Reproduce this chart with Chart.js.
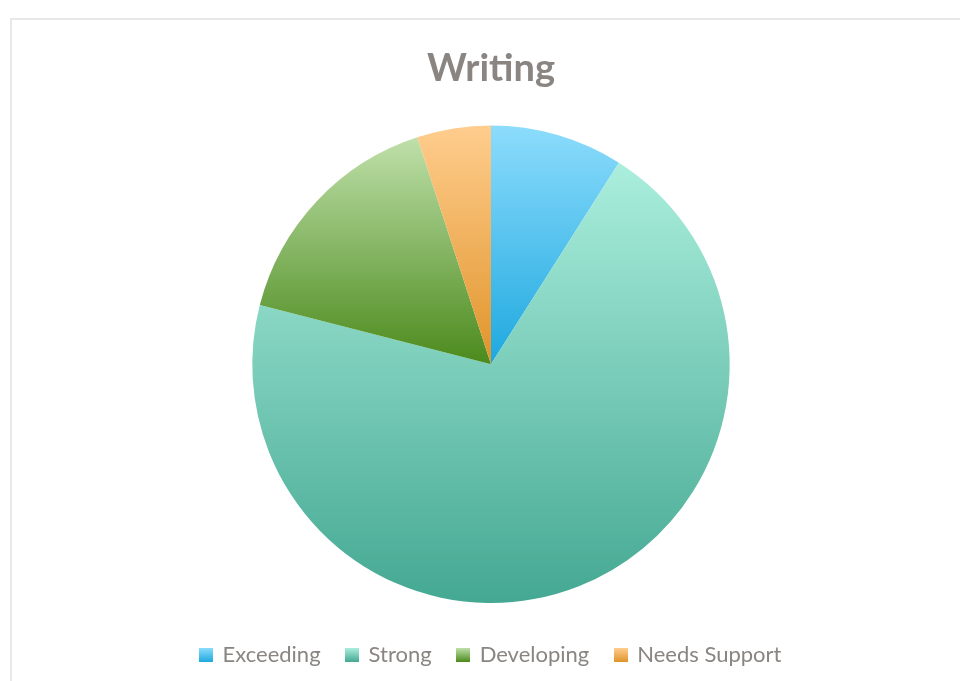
<!DOCTYPE html>
<html>
<head>
<meta charset="utf-8">
<script src="https://cdn.jsdelivr.net/npm/chart.js@4"></script>
<style>
  html, body { margin: 0; padding: 0; background: #fff; overflow: hidden; }
  #frame { position: absolute; left: 10px; top: 18px; width: 1000px; height: 700px;
           border-top: 2px solid #e8e8e8; border-left: 2px solid #e8e8e8; }
  #wrap { position: absolute; left: 0; top: 0; width: 960px; height: 681px; }
</style>
</head>
<body>
<div id="frame"></div>
<div id="wrap"><canvas id="chart" width="960" height="681"></canvas></div>
<script>
var categories = ['Exceeding', 'Strong', 'Developing', 'Needs Support'];
var shares = [9, 70, 16, 5];

// gradient ends per slice (top -> bottom)
var topColors = ['#8cdcfc', '#abeedd', '#bfe0aa', '#ffcd8e'];
var bottomColors = ['#1ea8df', '#44a892', '#4b8a1c', '#e0942a'];

function sliceGradient(context) {
    var chart = context.chart;
    var area = chart.chartArea;
    var i = context.dataIndex;
    if (!area) return topColors[i];
    var cy = (area.top + area.bottom) / 2;
    var r = Math.min(area.right - area.left, area.bottom - area.top) / 2;
    var total = shares.reduce(function (a, b) { return a + b; }, 0);
    var before = 0;
    for (var k = 0; k < i; k++) before += shares[k];
    var a0 = -Math.PI / 2 + before / total * 2 * Math.PI;
    var a1 = a0 + shares[i] / total * 2 * Math.PI;
    var ys = [cy, cy + r * Math.sin(a0), cy + r * Math.sin(a1)];
    // include extreme points if the arc passes through them
    [Math.PI / 2, -Math.PI / 2, 3 * Math.PI / 2].forEach(function (t) {
        if (t > a0 && t < a1) ys.push(cy + r * Math.sin(t));
    });
    var y0 = Math.min.apply(null, ys), y1 = Math.max.apply(null, ys);
    var g = chart.ctx.createLinearGradient(0, y0, 0, y1);
    g.addColorStop(0, topColors[i]);
    g.addColorStop(1, bottomColors[i]);
    return g;
}

// small gradient squares for the legend
var legendBoxes = topColors.map(function (c, i) {
    var cv = document.createElement('canvas');
    cv.width = 14; cv.height = 14;
    var x = cv.getContext('2d');
    var g = x.createLinearGradient(0, 0, 0, 14);
    g.addColorStop(0, c);
    g.addColorStop(1, bottomColors[i]);
    x.fillStyle = g;
    x.fillRect(0, 0, 14, 14);
    return cv;
});

var ctx = document.getElementById('chart').getContext('2d');
new Chart(ctx, {
    type: 'pie',
    data: {
        labels: categories,
        datasets: [{
            data: shares,
            backgroundColor: sliceGradient,
            borderWidth: 0
        }]
    },
    options: {
        responsive: false,
        animation: false,
        layout: { padding: { left: 22, right: 0, top: 0, bottom: 5 } },
        plugins: {
            title: {
                display: true,
                text: 'Writing',
                color: '#8a8581',
                font: { family: 'Lato', size: 38, weight: 'bold' },
                padding: { top: 46, bottom: 34 }
            },
            legend: {
                position: 'bottom',
                // empty legend title only adds space between pie and legend
                title: { display: true, text: ' ', font: { size: 10 }, padding: { top: 3, bottom: 0 } },
                labels: {
                    usePointStyle: true,
                    boxWidth: 11,
                    boxHeight: 14,
                    color: '#8a8581',
                    font: { family: 'Lato', size: 22 },
                    padding: 26,
                    generateLabels: function (chart) {
                        var items = Chart.overrides.pie.plugins.legend.labels.generateLabels(chart);
                        items.forEach(function (it, i) {
                            it.pointStyle = legendBoxes[i];
                            it.lineWidth = 0;
                        });
                        return items;
                    }
                }
            },
            tooltip: { enabled: false }
        }
    }
});
</script>
</body>
</html>
